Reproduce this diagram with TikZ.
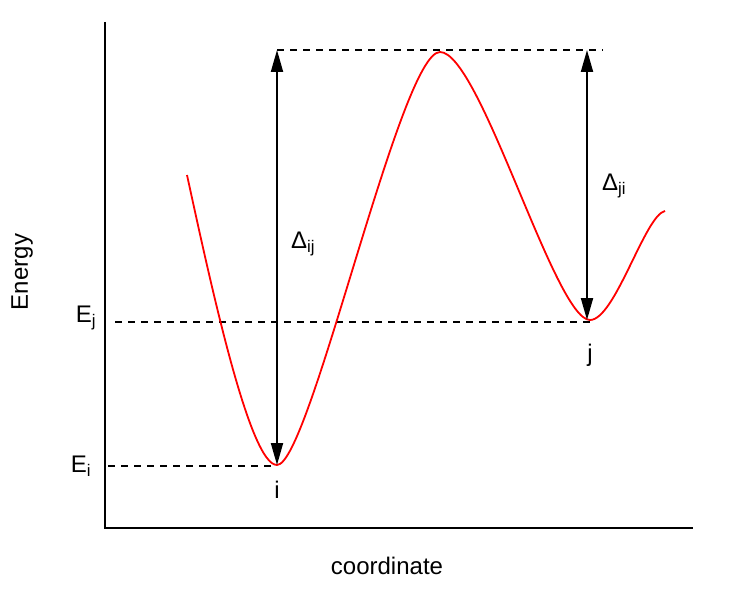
\documentclass[tikz,border=0pt]{standalone}
\usepackage{fontspec}
\setmainfont{Liberation Sans}
\usetikzlibrary{arrows.meta}
\begin{document}
\begin{tikzpicture}[x=1pt,y=-1pt,
  axis/.style={line width=2pt},
  guide/.style={line width=1.5pt,dash pattern=on 7pt off 6pt},
  gap/.style={line width=2pt,{Triangle[length=22pt,width=12pt]}-{Triangle[length=22pt,width=12pt]}},
  curve/.style={red,line width=1.8pt},
  lbl/.style={font=\fontsize{24}{28}\selectfont,inner sep=0pt}]
\useasboundingbox (0,0) rectangle (747,607);
\coordinate (ytop) at (105,22);
\coordinate (orig) at (105,528);
\coordinate (xend) at (693,528);
\coordinate (start) at (187,175);
\coordinate (mini) at (277,465);
\coordinate (maxt) at (440,52);
\coordinate (minj) at (590,320);
\coordinate (fin) at (665,211);
\coordinate (topL) at (277,50);
\coordinate (topR) at (603,50);
\coordinate (ejL) at (115,322);
\coordinate (ejR) at (590,322);
\coordinate (eiL) at (108,466);
\coordinate (eiR) at (277,466);
\coordinate (ai) at (277,50);
\coordinate (bi) at (277,465);
\coordinate (aj) at (587,50);
\coordinate (bj) at (587,320);
\draw[axis] (ytop) -- (orig) -- (xend);
\draw[guide] (topL) -- (topR);
\draw[guide] (ejL) -- (ejR);
\draw[guide] (eiL) -- (eiR);
\draw[curve] (start) .. controls (212,290) and (250,465) .. (mini)
  .. controls (310,465) and (400,52) .. (maxt)
  .. controls (480,52) and (555,320) .. (minj)
  .. controls (615,320) and (645,215) .. (fin);
\draw[gap] (ai) -- (bi);
\draw[gap] (aj) -- (bj);
\node[lbl] (dij) at (303,244) {Δ\textsubscript{ij}};
\node[lbl] (dji) at (614,186) {Δ\textsubscript{ji}};
\node[lbl] (ej) at (86,318) {E\textsubscript{j}};
\node[lbl] (ei) at (81,466) {E\textsubscript{i}};
\node[lbl] (li) at (277,490) {i};
\node[lbl] (lj) at (590,355) {j};
\node[lbl,rotate=90] (en) at (22,272) {Energy};
\node[lbl] (co) at (387,566) {coordinate};
\end{tikzpicture}
\end{document}
